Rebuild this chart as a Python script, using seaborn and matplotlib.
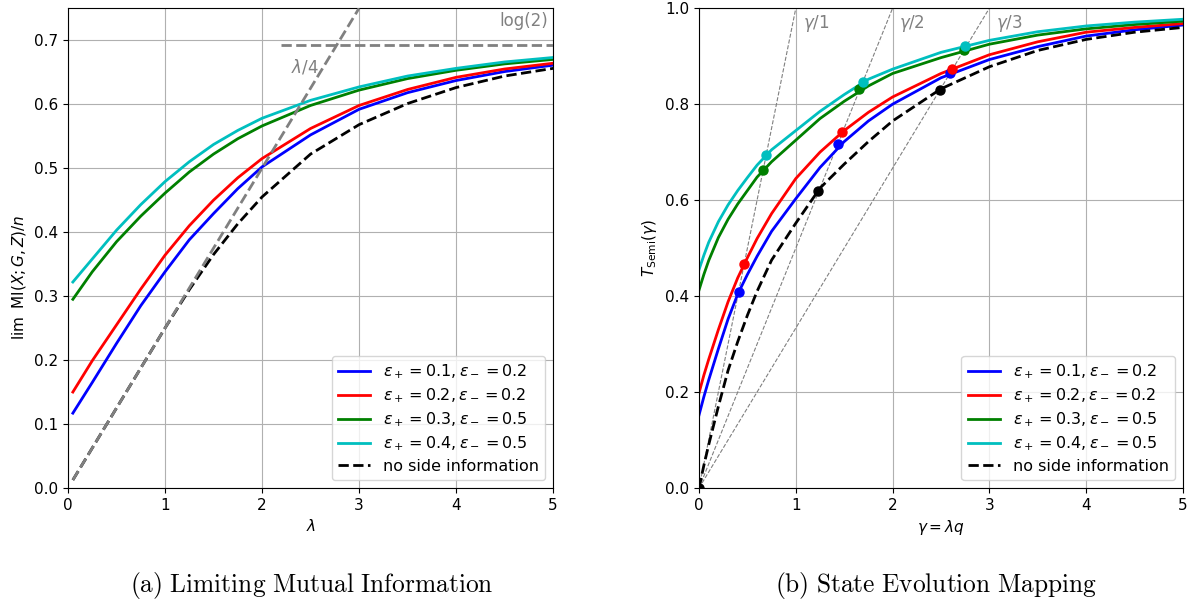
import numpy as np
import pandas as pd
import matplotlib
matplotlib.use("Agg")
import matplotlib.pyplot as plt
import seaborn as sns

plt.rcParams['font.size'] = 11

# ---- data ----
labels = [r'$\varepsilon_+=0.1, \varepsilon_-=0.2$',
          r'$\varepsilon_+=0.2, \varepsilon_-=0.2$',
          r'$\varepsilon_+=0.3, \varepsilon_-=0.5$',
          r'$\varepsilon_+=0.4, \varepsilon_-=0.5$']
colors = ['b', 'r', 'g', 'c']

# (a) limiting mutual information
lam = [0.05, 0.25, 0.5, 0.75, 1, 1.25, 1.5, 1.75, 2, 2.5, 3, 3.5, 4, 4.5, 5]
mi_blue = [0.117, 0.165, 0.226, 0.285, 0.338, 0.388, 0.429, 0.468, 0.502, 0.552, 0.592, 0.618, 0.637, 0.651, 0.661]
mi_red = [0.150, 0.199, 0.255, 0.311, 0.364, 0.410, 0.450, 0.485, 0.515, 0.562, 0.598, 0.623, 0.642, 0.655, 0.664]
mi_green = [0.295, 0.338, 0.385, 0.425, 0.461, 0.494, 0.522, 0.546, 0.566, 0.598, 0.622, 0.640, 0.653, 0.663, 0.670]
mi_cyan = [0.322, 0.358, 0.403, 0.443, 0.479, 0.510, 0.537, 0.559, 0.578, 0.606, 0.627, 0.644, 0.656, 0.666, 0.673]
mi_none = [0.0125, 0.0625, 0.125, 0.1875, 0.25, 0.31, 0.365, 0.413, 0.455, 0.522, 0.568, 0.601, 0.626, 0.644, 0.656]
quarter_x = [0.05, 3.0]
quarter_y = [0.0125, 0.75]
log2_x = [2.2, 5.0]
log2_y = [0.693, 0.693]

# (b) state evolution mapping
gam = [0, 0.05, 0.1, 0.2, 0.3, 0.4, 0.5, 0.6, 0.75, 1, 1.25, 1.5, 1.75, 2, 2.5, 3, 3.5, 4, 4.5, 5]
t_blue = [0.152, 0.19, 0.225, 0.29, 0.352, 0.404, 0.445, 0.483, 0.535, 0.603, 0.668, 0.722, 0.765, 0.8, 0.855, 0.893, 0.92, 0.942, 0.955, 0.965]
t_red = [0.198, 0.235, 0.268, 0.33, 0.388, 0.438, 0.48, 0.52, 0.572, 0.645, 0.70, 0.745, 0.783, 0.815, 0.864, 0.903, 0.93, 0.95, 0.96, 0.968]
t_green = [0.4125, 0.445, 0.474, 0.522, 0.56, 0.592, 0.62, 0.648, 0.68, 0.725, 0.77, 0.806, 0.838, 0.864, 0.897, 0.925, 0.944, 0.957, 0.966, 0.973]
t_cyan = [0.455, 0.485, 0.512, 0.555, 0.59, 0.62, 0.647, 0.673, 0.705, 0.745, 0.785, 0.82, 0.852, 0.873, 0.908, 0.933, 0.951, 0.963, 0.971, 0.977]
t_none = [0, 0.047, 0.09, 0.17, 0.245, 0.305, 0.36, 0.41, 0.475, 0.552, 0.625, 0.675, 0.722, 0.765, 0.832, 0.878, 0.912, 0.935, 0.95, 0.96]

# fixed points marked on the curves
dots_x = {'b': [0.408, 1.434, 2.595], 'r': [0.463, 1.479, 2.616],
          'g': [0.659, 1.658, 2.743], 'c': [0.694, 1.69, 2.753],
          'k': [0.0, 1.227, 2.485]}
dots_y = {'b': [0.408, 0.717, 0.864], 'r': [0.467, 0.741, 0.874],
          'g': [0.6625, 0.831, 0.9125], 'c': [0.694, 0.846, 0.922],
          'k': [0.0, 0.619, 0.829]}
rays = [1, 2, 3]
ray_labels = [r'$\gamma/1$', r'$\gamma/2$', r'$\gamma/3$']

fig = plt.figure(figsize=(11.89, 6.05), dpi=100)
ax1 = fig.add_axes([0.0572, 0.1934, 0.408, 0.793])
ax2 = fig.add_axes([0.5879, 0.1934, 0.407, 0.793])

# left panel
for ys, c, lab in zip([mi_blue, mi_red, mi_green, mi_cyan], colors, labels):
    sns.lineplot(x=lam, y=ys, color=c, lw=2, label=lab, ax=ax1, estimator=None)
sns.lineplot(x=lam, y=mi_none, color='k', lw=2, ls='--', label='no side information', ax=ax1, estimator=None)
ax1.plot(quarter_x, quarter_y, color='gray', lw=2, ls='--', zorder=5)
ax1.plot(log2_x, log2_y, color='gray', lw=2, ls='--', zorder=5)
ax1.text(2.3, 0.65, r'$\lambda/4$', color='gray', fontsize=12)
ax1.text(4.95, 0.73, 'log(2)', color='gray', fontsize=12, ha='right', va='center')
ax1.set_xlim(0, 5)
ax1.set_ylim(0, 0.75)
ax1.set_xlabel(r'$\lambda$')
ax1.set_ylabel(r'$\lim\;\; \mathrm{MI}(X;G,Z)/n$')
ax1.yaxis.label.set_y(0.44)
ax1.grid(True)
ax1.legend(loc='lower right', fontsize=11.5, labelspacing=0.34)

# right panel
for k, lab in zip(rays, ray_labels):
    ax2.plot([0, k], [0, 1], color='gray', lw=0.8, ls='--')
    ax2.text(k + 0.07, 0.99, lab, color='gray', fontsize=12, va='top')
for ys, c, lab in zip([t_blue, t_red, t_green, t_cyan], colors, labels):
    sns.lineplot(x=gam, y=ys, color=c, lw=2, label=lab, ax=ax2, estimator=None)
sns.lineplot(x=gam, y=t_none, color='k', lw=2, ls='--', label='no side information', ax=ax2, estimator=None)
for c in ['b', 'r', 'g', 'c', 'k']:
    ax2.plot(dots_x[c], dots_y[c], 'o', color=c, ms=6.5, zorder=6)
ax2.set_xlim(0, 5)
ax2.set_ylim(0, 1)
ax2.set_xlabel(r'$\gamma = \lambda q$')
ax2.set_ylabel(r'$T_{\mathrm{Semi}}(\gamma)$')
ax2.grid(True)
ax2.legend(loc='lower right', fontsize=11.5, labelspacing=0.34)

fig.text(0.262, 0.022, r'$\mathrm{(a)\ Limiting\ Mutual\ Information}$', ha='center',
         fontsize=18.3, math_fontfamily='cm')
fig.text(0.787, 0.022, r'$\mathrm{(b)\ State\ Evolution\ Mapping}$', ha='center',
         fontsize=18.3, math_fontfamily='cm')

fig.savefig('out.png', dpi=100)
